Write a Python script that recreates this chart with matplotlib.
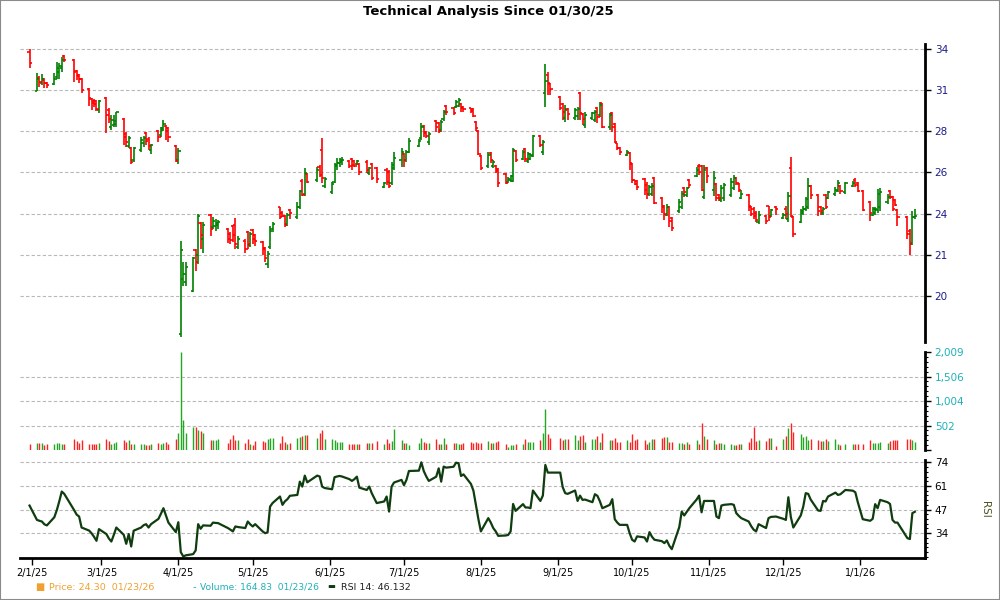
import datetime
import matplotlib
matplotlib.use('Agg')
import matplotlib.pyplot as plt
import matplotlib.dates as mdates
from matplotlib.ticker import FixedLocator, NullLocator, AutoMinorLocator
from matplotlib.patches import Rectangle
import numpy as np
import pandas as pd

# trading days 1/31/25 .. 1/23/26
holidays = ['2025-02-17', '2025-04-18', '2025-05-26', '2025-06-19', '2025-07-04',
            '2025-09-01', '2025-11-27', '2025-12-25', '2026-01-01', '2026-01-19']
dates = pd.bdate_range('2025-01-31', '2026-01-23', freq='C', holidays=holidays)

opens = [
    33.79,
    31.06, 31.96, 31.61, 31.82, 31.61,
    31.54, 32.03, 32.39, 32.67, 33.51,
    33.23, 32.46, 32.17, 31.89,
    31.19, 30.54, 30.42, 30.42, 29.84,
    30.61, 29.84, 28.76, 28.88, 28.95,
    29.27, 28.31, 27.61, 27.49, 26.78,
    27.37, 27.78, 28.37, 28.02, 27.37,
    28.49, 28.25, 28.56, 28.82, 28.69,
    27.61, 26.78, 18.43, 20.72, 20.59,
    20.23, 22.05, 21.85, 23.38, 22.59,
    23.82, 23.18, 23.23, 23.28,
    23.08, 22.83, 23.23, 23.28, 22.19,
    22.49, 22.93, 22.29, 23.03, 22.79,
    22.44, 22.15, 21.40, 22.19, 23.08,
    24.19, 23.92, 23.77, 23.33, 24.03,
    23.67, 24.19, 25.61, 24.87, 25.97,
    25.66, 26.37, 27.37, 25.34,
    24.98, 25.55, 26.43, 26.61, 26.67,
    26.72, 26.84, 26.72, 26.55, 26.55,
    26.67, 26.03, 26.55, 26.31,
    25.29, 26.20, 26.08, 25.50, 26.31,
    26.78, 27.14, 26.78, 27.26,
    27.61, 28.08, 28.82, 28.43, 27.84,
    29.14, 29.01, 28.56, 29.27, 30.10,
    29.97, 30.03, 30.10, 30.23, 30.03,
    29.97, 29.91, 29.07, 28.49, 27.02,
    26.43, 27.20, 26.43, 26.43, 26.25,
    25.97, 25.55, 25.66, 25.61, 27.31,
    26.84, 27.43, 26.72, 26.84, 27.02,
    28.20, 27.26, 30.93, 32.17, 31.54,
    30.67, 30.23, 29.33, 29.91,
    29.33, 29.46, 30.93, 29.59, 28.88,
    29.33, 29.20, 29.97, 29.52, 30.29,
    28.76, 29.65, 28.95, 27.78, 27.49,
    27.08, 27.20, 26.55, 25.66, 25.61,
    25.71, 25.40, 24.87, 24.92, 25.76,
    24.66, 24.24, 23.82, 24.19, 23.62,
    23.98, 24.19, 25.24, 24.82, 25.66,
    25.87, 26.43, 26.43, 24.71, 26.31,
    25.13, 25.45, 24.82, 24.55, 24.66,
    24.82, 25.24, 25.76, 25.45, 24.66,
    24.82, 24.19, 24.13, 23.92, 23.43,
    23.77, 24.24, 23.72, 24.19,
    23.62, 24.13, 23.57, 26.31, 23.67,
    23.43, 23.92, 24.08, 24.19, 25.34,
    24.82, 24.19, 23.92, 24.82, 24.66,
    24.87, 25.08, 25.34, 24.98,
    25.34, 25.66, 25.50, 25.08,
    24.45, 23.82, 23.92, 24.03, 24.19,
    24.45, 25.08, 24.71, 24.55, 24.03,
    23.67, 22.98, 22.39, 23.67,
]
highs = [
    34.00,
    32.32, 32.10, 32.25, 31.96, 31.68,
    32.32, 33.09, 33.02, 33.44, 33.58,
    33.30, 32.53, 32.25, 31.96,
    31.26, 30.61, 30.54, 30.48, 30.48,
    30.67, 29.97, 29.52, 29.52, 29.71,
    29.33, 28.43, 28.20, 27.55, 27.55,
    28.14, 28.20, 28.43, 28.14, 27.73,
    28.56, 28.76, 29.20, 28.88, 28.76,
    27.67, 27.49, 22.49, 21.49, 21.49,
    21.76, 22.10, 23.87, 23.43, 23.43,
    23.87, 23.67, 23.57, 23.52,
    23.13, 22.93, 23.28, 23.62, 22.74,
    22.59, 22.98, 22.93, 23.08, 22.83,
    22.49, 22.19, 22.00, 23.23, 23.43,
    24.19, 23.98, 23.82, 23.92, 24.08,
    24.45, 25.13, 25.71, 26.31, 26.03,
    26.37, 26.49, 28.08, 25.82,
    25.55, 26.61, 26.90, 26.90, 26.96,
    26.78, 26.90, 26.78, 26.78, 26.61,
    26.78, 26.37, 26.61, 26.37,
    25.55, 26.31, 26.20, 26.67, 27.26,
    27.49, 27.20, 27.37, 28.08,
    28.02, 29.01, 28.88, 28.49, 28.43,
    29.20, 29.07, 29.20, 29.84, 30.16,
    30.03, 30.48, 30.61, 30.29, 30.10,
    29.97, 29.97, 29.14, 28.56, 27.08,
    27.26, 27.26, 26.78, 26.49, 26.31,
    26.03, 25.82, 25.92, 27.49, 27.37,
    27.37, 27.49, 27.26, 27.20, 28.25,
    28.25, 27.96, 32.95, 32.39, 31.61,
    30.74, 30.29, 30.16, 29.97,
    29.97, 30.03, 30.99, 29.65, 29.71,
    29.71, 29.84, 30.03, 30.35, 30.29,
    29.65, 29.71, 29.01, 27.78, 27.55,
    27.37, 27.26, 26.61, 25.66, 25.66,
    25.76, 25.55, 25.40, 25.50, 25.82,
    24.71, 24.29, 24.34, 24.24, 23.67,
    24.61, 25.03, 25.29, 25.29, 25.71,
    26.37, 26.55, 26.49, 26.49, 26.37,
    26.14, 25.50, 24.87, 25.40, 25.50,
    25.76, 25.92, 25.82, 25.50, 25.13,
    24.87, 24.24, 24.19, 23.98, 23.98,
    23.82, 24.24, 24.08, 24.24,
    23.92, 24.24, 24.98, 26.96, 23.72,
    24.08, 24.24, 24.71, 25.76, 25.40,
    24.87, 24.24, 24.19, 24.87, 25.03,
    25.29, 25.66, 25.40, 25.55,
    25.61, 25.76, 25.55, 25.13,
    24.50, 24.19, 24.19, 25.19, 25.24,
    24.87, 25.13, 24.77, 24.61, 24.08,
    23.72, 23.08, 23.98, 24.08,
]
lows = [
    32.67,
    31.06, 31.33, 31.47, 31.26, 31.26,
    31.47, 31.89, 31.89, 32.39, 33.09,
    31.68, 31.82, 31.61, 30.93,
    30.10, 29.84, 30.03, 29.78, 29.65,
    28.37, 29.01, 28.56, 28.76, 28.76,
    27.67, 27.55, 27.49, 26.55, 26.67,
    27.26, 27.55, 27.67, 27.37, 27.14,
    27.84, 28.14, 28.49, 27.96, 27.84,
    26.67, 26.55, 18.31, 20.41, 20.41,
    20.18, 21.08, 21.40, 22.10, 21.95,
    22.74, 23.08, 22.98, 23.08,
    22.39, 22.34, 22.44, 22.10, 22.10,
    21.95, 22.10, 22.19, 22.34, 22.24,
    21.85, 21.53, 21.22, 22.10, 22.93,
    23.57, 23.67, 23.18, 23.23, 23.57,
    23.57, 24.08, 24.77, 24.77, 25.50,
    25.55, 25.82, 25.50, 25.24,
    24.87, 25.50, 26.20, 26.37, 26.49,
    26.31, 26.20, 26.37, 26.49, 25.92,
    26.03, 25.92, 25.66, 25.50,
    25.24, 25.40, 25.24, 25.40, 26.20,
    26.37, 26.37, 26.67, 27.20,
    27.55, 27.96, 28.14, 28.08, 27.67,
    28.43, 28.37, 28.43, 29.14, 29.52,
    29.52, 29.97, 30.03, 29.71, 29.71,
    29.65, 29.39, 28.49, 27.08, 26.20,
    26.31, 26.61, 26.31, 26.03, 25.29,
    25.45, 25.50, 25.55, 25.55, 26.67,
    26.78, 26.67, 26.61, 26.78, 26.96,
    27.55, 27.08, 30.03, 30.80, 30.80,
    29.84, 29.20, 29.07, 29.20,
    29.20, 29.20, 29.20, 28.88, 28.69,
    29.20, 29.07, 29.01, 29.39, 28.69,
    28.56, 28.43, 27.78, 27.37, 27.08,
    27.02, 26.20, 25.50, 25.40, 25.13,
    24.82, 24.61, 24.77, 24.77, 24.34,
    23.92, 23.52, 23.77, 23.18, 22.98,
    23.92, 24.08, 24.71, 24.71, 25.24,
    25.82, 25.92, 25.03, 24.61, 25.50,
    24.77, 24.50, 24.50, 24.45, 24.50,
    24.71, 25.13, 25.40, 24.98, 24.61,
    23.98, 23.72, 23.57, 23.43, 23.33,
    23.33, 23.48, 23.67, 23.82,
    23.57, 23.57, 23.43, 23.67, 22.69,
    23.38, 23.82, 23.98, 24.08, 24.61,
    23.72, 23.82, 23.82, 24.08, 24.61,
    24.77, 24.98, 24.87, 24.87,
    25.29, 25.29, 24.98, 23.98,
    23.48, 23.72, 23.82, 23.92, 23.98,
    24.34, 24.61, 23.98, 24.24, 23.23,
    22.59, 21.85, 22.29, 23.57,
]
closes = [
    33.02,
    31.89, 31.68, 31.89, 31.61, 31.47,
    31.89, 32.67, 32.81, 33.23, 33.23,
    32.39, 32.10, 31.89, 31.12,
    30.61, 30.29, 30.23, 29.91, 30.42,
    29.52, 29.27, 29.20, 29.14, 29.71,
    28.14, 27.84, 28.08, 26.67, 27.49,
    27.96, 28.08, 27.90, 27.61, 27.67,
    28.14, 28.69, 28.95, 28.49, 28.14,
    26.72, 27.31, 22.05, 20.95, 21.26,
    21.71, 21.53, 23.77, 22.79, 23.28,
    23.08, 23.48, 23.38, 23.43,
    22.59, 22.54, 22.79, 22.34, 22.59,
    22.10, 22.34, 22.83, 22.59, 22.49,
    22.10, 21.71, 21.90, 22.98, 23.33,
    23.67, 23.77, 23.28, 23.82, 23.92,
    24.19, 25.03, 24.82, 26.03, 25.55,
    26.20, 25.92, 25.76, 25.71,
    25.45, 26.49, 26.61, 26.78, 26.78,
    26.43, 26.49, 26.43, 26.72, 26.08,
    26.20, 26.31, 25.76, 25.71,
    25.50, 25.55, 25.34, 26.49, 26.90,
    27.26, 26.78, 27.26, 27.90,
    27.90, 28.76, 28.37, 28.20, 28.31,
    28.76, 28.49, 29.07, 29.71, 29.71,
    29.65, 30.35, 30.48, 29.97, 29.91,
    29.78, 29.46, 28.69, 27.14, 26.31,
    27.08, 26.78, 26.67, 26.14, 25.50,
    25.50, 25.71, 25.87, 27.37, 26.78,
    27.26, 26.84, 27.14, 27.08, 28.20,
    27.67, 27.84, 31.75, 31.61, 31.19,
    29.97, 29.71, 29.84, 29.59,
    29.84, 29.91, 29.65, 29.27, 29.52,
    29.65, 29.71, 29.39, 30.16, 28.76,
    29.52, 28.76, 27.84, 27.49, 27.26,
    27.26, 26.61, 25.66, 25.45, 25.29,
    25.13, 24.87, 25.29, 25.34, 24.40,
    24.19, 23.87, 24.19, 23.48, 23.13,
    24.45, 24.87, 24.98, 25.24, 25.40,
    26.20, 26.08, 25.13, 26.20, 25.87,
    25.76, 24.66, 24.66, 25.24, 25.40,
    25.55, 25.76, 25.50, 25.13, 24.87,
    24.24, 23.87, 23.77, 23.52, 23.82,
    23.48, 23.67, 24.03, 24.08,
    23.82, 23.87, 24.77, 23.72, 22.83,
    23.98, 24.13, 24.61, 25.34, 24.82,
    23.98, 23.98, 24.08, 24.19, 24.98,
    25.13, 25.50, 25.03, 25.50,
    25.50, 25.40, 25.03, 24.03,
    23.92, 24.08, 24.08, 24.87, 24.98,
    24.71, 24.71, 24.08, 24.29, 23.67,
    22.83, 22.34, 23.67, 23.77,
]
volumes = [
    116,
    150, 150, 137, 96, 116,
    116, 150, 137, 116, 116,
    219, 184, 137, 198,
    116, 116, 130, 116, 137,
    219, 184, 130, 150, 164,
    198, 171, 198, 116, 130,
    116, 116, 103, 96, 116,
    137, 116, 150, 171, 130,
    219, 355, 2009, 608, 355,
    478, 478, 410, 389, 355,
    205, 205, 205, 219,
    150, 219, 300, 198, 198,
    150, 232, 130, 103, 184,
    184, 164, 219, 253, 239,
    150, 287, 171, 130, 150,
    239, 273, 287, 307, 300,
    253, 342, 403, 219,
    219, 198, 171, 164, 164,
    116, 116, 130, 130, 130,
    150, 150, 150, 184,
    130, 219, 150, 184, 423,
    198, 150, 150, 96,
    150, 239, 171, 150, 150,
    219, 116, 116, 253, 116,
    150, 137, 130, 130, 137,
    164, 150, 164, 150, 150,
    184, 150, 150, 164, 184,
    116, 68, 103, 103, 116,
    116, 219, 164, 164, 171,
    198, 342, 833, 321, 239,
    239, 198, 232, 232,
    300, 198, 287, 300, 164,
    219, 219, 287, 164, 355,
    198, 198, 239, 171, 171,
    198, 171, 321, 198, 219,
    198, 130, 171, 219, 232,
    239, 266, 273, 171, 164,
    150, 150, 116, 171, 116,
    198, 130, 546, 287, 219,
    198, 130, 150, 150, 130,
    130, 96, 103, 116, 130,
    171, 239, 471, 184, 198,
    184, 239, 239, 82,
    219, 287, 458, 560, 376,
    321, 273, 287, 198, 219,
    198, 184, 184, 219, 184,
    219, 130, 96, 116,
    130, 116, 116, 130,
    198, 150, 137, 150, 171,
    150, 184, 205, 205, 205,
    219, 219, 205, 165,
]
rsi = [
    49.6,
    41.5, 41.0, 40.6, 39.0, 38.4,
    43.0, 47.0, 52.0, 57.5, 56.2,
    47.0, 44.5, 43.4, 37.2,
    35.5, 34.0, 32.0, 29.7, 36.3,
    33.5, 31.0, 29.3, 33.1, 37.2,
    33.1, 28.0, 33.5, 26.5, 35.4,
    37.2, 38.5, 39.1, 37.2, 39.1,
    42.1, 45.0, 48.1, 44.0, 40.0,
    34.6, 40.2, 23.3, 20.9, 21.5,
    22.2, 24.3, 39.1, 36.5, 38.4,
    38.2, 40.0, 39.8, 39.7,
    36.9, 36.0, 35.0, 37.8, 37.5,
    36.9, 40.6, 39.0, 37.8, 39.1,
    35.0, 34.0, 34.5, 49.0, 51.0,
    54.7, 50.0, 52.0, 53.2, 55.1,
    55.6, 63.1, 60.3, 66.5, 62.7,
    66.5, 66.0, 60.3, 59.5,
    58.8, 65.6, 66.0, 66.3, 66.0,
    64.5, 63.5, 64.5, 65.9, 59.7,
    58.4, 60.3, 56.6, 51.0,
    51.9, 54.7, 46.2, 60.3, 62.6,
    64.1, 61.1, 64.1, 69.1,
    69.3, 74.0, 69.0, 66.0, 63.5,
    65.9, 70.6, 63.1, 71.6, 71.0,
    71.5, 73.8, 73.5, 66.3, 67.2,
    61.8, 58.0, 50.0, 42.0, 35.0,
    42.5, 40.0, 36.9, 35.0, 32.5,
    32.7, 33.0, 35.0, 50.5, 46.6,
    50.4, 48.5, 48.5, 48.1, 58.1,
    52.2, 55.2, 72.5, 68.2, 68.2,
    68.2, 60.0, 56.6, 56.2,
    58.1, 52.2, 55.2, 52.8, 53.0,
    51.5, 56.0, 55.1, 52.0, 48.1,
    50.0, 53.2, 41.9, 40.0, 38.7,
    38.7, 34.0, 30.3, 29.3, 32.2,
    31.6, 29.3, 34.6, 32.0, 30.3,
    29.5, 28.4, 29.9, 26.9, 25.0,
    37.4, 46.2, 44.0, 46.0, 48.0,
    53.0, 55.2, 45.8, 52.2, 52.2,
    52.2, 43.4, 42.5, 49.6, 50.0,
    50.4, 50.0, 45.3, 43.8, 42.5,
    40.6, 38.0, 36.0, 35.0, 39.1,
    36.9, 42.5, 43.2, 43.4,
    42.1, 41.5, 54.3, 43.1, 37.2,
    44.0, 49.0, 56.6, 56.2, 53.0,
    46.8, 46.6, 52.2, 51.9, 54.7,
    56.9, 55.6, 56.0, 58.4,
    58.0, 57.1, 51.5, 41.9,
    41.0, 42.1, 50.4, 48.1, 52.8,
    51.5, 50.5, 41.5, 40.0, 40.0,
    31.2, 30.7, 45.3, 46.1,
]

price_ticks = [34.0, 31.12, 28.49, 26.08, 23.87, 21.85, 20.0]
price_labels = ['34', '31', '28', '26', '24', '21', '20']
vol_ticks = [502.25, 1004.5, 1506.75, 2009]
vol_labels = ['502', '1,004', '1,506', '2,009']
rsi_ticks = [34, 47.33, 60.67, 74]
rsi_labels = ['34', '47', '61', '74']

n = len(dates)
assert all(len(a) == n for a in (opens, highs, lows, closes, volumes, rsi)), \
    (n, len(opens), len(highs), len(lows), len(closes), len(volumes), len(rsi))

x = mdates.date2num(dates.to_pydatetime())
o = np.array(opens); h = np.array(highs); l = np.array(lows); c = np.array(closes)
up = c >= o
pcol = np.where(up, '#008000', '#ff0000')
vcol = np.where(up, '#22a822', '#ff2020')

base = mdates.date2num(datetime.datetime(2025, 2, 1))
xlim = (base - 4.84, base + 360.1)
grid_kw = dict(color='#b8b8b8', ls=(0, (3, 2)), lw=0.8, zorder=0)

fig = plt.figure(figsize=(10, 6), dpi=100)
fig.patches.append(Rectangle((0, 0), 1, 1, transform=fig.transFigure, fill=False,
                             ec='#8a8a8a', lw=1.5))

def style(ax):
    for s in ('left', 'top', 'bottom'):
        ax.spines[s].set_visible(False)
    ax.spines['right'].set_linewidth(2)
    ax.yaxis.tick_right()
    ax.set_xlim(*xlim)
    ax.set_xticks([])
    ax.set_facecolor('none')

# price panel
ax1 = fig.add_axes([0.02, 0.43, 0.905, 0.4967])
style(ax1)
ax1.set_yscale('log')
ax1.set_ylim(18.11, 34.37)
ax1.yaxis.set_major_locator(FixedLocator(price_ticks))
ax1.yaxis.set_minor_locator(NullLocator())
ax1.set_yticklabels(price_labels)
ax1.tick_params(axis='y', length=4, width=1, labelsize=7.5, labelcolor='#1c1c8c', pad=3)
for t in price_ticks:
    ax1.axhline(t, **grid_kw)
ax1.vlines(x, l, h, colors=pcol, lw=1.2)
ax1.hlines(o, x - 0.9, x, colors=pcol, lw=1.2)
ax1.hlines(c, x, x + 0.9, colors=pcol, lw=1.2)

# volume panel
ax2 = fig.add_axes([0.02, 0.25, 0.905, 0.1633])
style(ax2)
ax2.set_ylim(0, 2009)
ax2.yaxis.set_major_locator(FixedLocator([0] + vol_ticks))
ax2.set_yticklabels([''] + vol_labels)
ax2.yaxis.set_minor_locator(AutoMinorLocator(5))
ax2.tick_params(axis='y', which='major', length=4, width=1, labelsize=7.5,
                labelcolor='#1fb0b8', pad=3)
ax2.tick_params(axis='y', which='minor', length=2, width=0.8)
for t in vol_ticks[:-1]:
    ax2.axhline(t, **grid_kw)
ax2.vlines(x, 0, volumes, colors=vcol, lw=1.0)

# rsi panel
ax3 = fig.add_axes([0.02, 0.07, 0.905, 0.1633])
style(ax3)
ax3.spines['bottom'].set_visible(True)
ax3.spines['bottom'].set_linewidth(2)
ax3.set_ylim(20, 75.3)
ax3.yaxis.set_major_locator(FixedLocator(rsi_ticks))
ax3.set_yticklabels(rsi_labels)
ax3.yaxis.set_minor_locator(AutoMinorLocator(5))
ax3.tick_params(axis='y', which='major', length=4, width=1, labelsize=7.5, pad=3)
ax3.tick_params(axis='y', which='minor', length=2, width=0.8)
for t in rsi_ticks:
    ax3.axhline(t, **grid_kw)
ax3.plot(x, rsi, color='#0f3d0f', lw=1.6)

months = pd.date_range('2025-02-01', '2026-01-01', freq='MS')
ax3.set_xticks(mdates.date2num(months.to_pydatetime()))
ax3.set_xticklabels([f'{d.month}/{d.day}/{d.year % 100}' for d in months])
ax3.tick_params(axis='x', length=5, width=1, labelsize=7, pad=2)
ax3.set_xlim(*xlim)

fig.text(0.985, 1 - 509 / 600, 'RSI', rotation=270, color='#4b5320', fontsize=7.5,
         ha='center', va='center')
fig.text(0.488, 1 - 11 / 600, 'Technical Analysis Since 01/30/25', ha='center',
         va='center', fontsize=9.5, fontweight='bold')

# legend line
ly = 1 - 587 / 600
fig.text(0.035, ly, '\u25a0', color='#f0a030', fontsize=7, va='center')
fig.text(0.049, ly, 'Price: 24.30  01/23/26', color='#f0a030', fontsize=6.8, va='center')
fig.text(0.193, ly, '-', color='#1fb0b8', fontsize=7, va='center')
fig.text(0.200, ly, 'Volume: 164.83  01/23/26', color='#1fb0b8', fontsize=6.6, va='center')
fig.text(0.327, ly, '\u25ac', color='#0f3d0f', fontsize=6, va='center')
fig.text(0.341, ly, 'RSI 14: 46.132', color='#222222', fontsize=6.8, va='center')

fig.savefig('out.png', dpi=100)
plt.close(fig)
